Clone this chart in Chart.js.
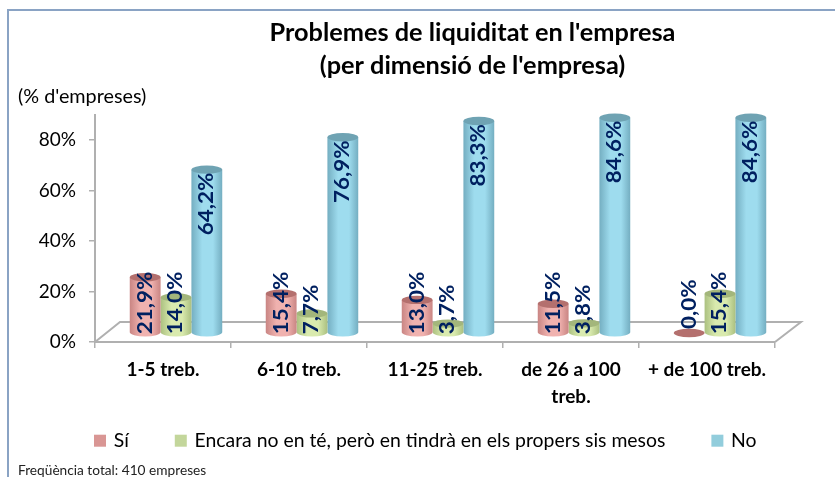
<!DOCTYPE html>
<html><head><meta charset="utf-8">
<style>html,body{margin:0;padding:0;background:#fff}#w{position:relative;width:835px;height:477px}canvas{display:block}</style>
<script src="https://cdn.jsdelivr.net/npm/chart.js@4"></script>
</head><body><div id="w"><canvas id="c" width="835" height="477"></canvas></div>
<script>
const categories = ['1-5 treb.', '6-10 treb.', '11-25 treb.', ['de 26 a 100', 'treb.'], '+ de 100 treb.'];
const si = [21.9, 15.4, 13.0, 11.5, 0.0];
const encara = [14.0, 7.7, 3.7, 3.8, 15.4];
const no = [64.2, 76.9, 83.3, 84.6, 84.6];
const seriesNames = ['Sí', 'Encara no en té, però en tindrà en els propers sis mesos', 'No'];
const titleLines = ["Problemes de liquiditat en l'empresa", "(per dimensió de l'empresa)"];
const yUnit = "(% d'empreses)";
const footnote = 'Freqüència total: 410 empreses';
const FONT = 'Lato, Carlito, sans-serif';
const palette = [
  {legend:'#d99694', edge:'#c98583', mid:'#f0b2af', top:'#b4706e'},
  {legend:'#c3d69b', edge:'#abc080', mid:'#d9eaae', top:'#a3b67b'},
  {legend:'#92cddc', edge:'#74aec1', mid:'#9edcee', top:'#6fa3b3'}
];
const DX = 13, DY = -9, RY = 4.2, LABEL_STRETCH = 1.12, PERSPECTIVE = 1.008;

function barTop(el) { return el.base + DY - (el.base - el.y) * PERSPECTIVE; }

function cylinder(ctx, el, c) {
  const w = el.width, l = el.x - w/2 + DX, r = l + w, cx = l + w/2;
  const topY = barTop(el), baseY = el.base + DY, rx = w/2;
  if (baseY - topY < 1) {
    ctx.fillStyle = c.top;
    ctx.beginPath(); ctx.ellipse(cx, baseY, rx, RY, 0, 0, Math.PI*2); ctx.fill();
    return;
  }
  const g = ctx.createLinearGradient(l, 0, r, 0);
  g.addColorStop(0, c.edge);
  g.addColorStop(0.35, c.mid); g.addColorStop(0.7, c.mid);
  g.addColorStop(1, c.edge);
  ctx.fillStyle = g;
  ctx.beginPath();
  ctx.moveTo(l, topY);
  ctx.lineTo(l, baseY);
  ctx.ellipse(cx, baseY, rx, RY, 0, Math.PI, 0, true);
  ctx.lineTo(r, topY);
  ctx.closePath();
  ctx.fill();
  ctx.fillStyle = c.top;
  ctx.beginPath(); ctx.ellipse(cx, topY, rx, RY, 0, 0, Math.PI*2); ctx.fill();
}

const scene = {
  id: 'scene',
  beforeLayout(chart) {
    const lg = chart.legend;
    if (!lg._patched) {
      const f = lg.fit;
      lg.fit = function () { this.maxWidth = 2000; f.call(this); this.height = 30; };
      lg._patched = true;
    }
  },
  afterLayout(chart) {
    const t = chart.titleBlock, lg = chart.legend;
    t.left += 85; t.right += 85; t.top = 16;
    lg.left = 48; lg.right = 2000; lg.top = 383; lg.bottom = 477;
  },
  beforeDatasetsDraw(chart) {
    const {ctx, scales:{x, y}} = chart;
    const x0 = x.left, x1 = x.right, y0 = y.getPixelForValue(0);
    ctx.save();
    ctx.strokeStyle = '#b0b0b0'; ctx.lineWidth = 2;
    ctx.beginPath();
    ctx.moveTo(x0, y0); ctx.lineTo(x0 + 25, y0 - 20); ctx.lineTo(x1 + 26, y0 - 20); ctx.lineTo(x1, y0);
    ctx.stroke();
    ctx.restore();
  },
  beforeDatasetDraw(chart, args) {
    const ctx = chart.ctx, c = palette[args.index];
    ctx.save();
    args.meta.data.forEach(el => cylinder(ctx, el, c));
    ctx.restore();
    return false;
  },
  afterDatasetsDraw(chart) {
    const ctx = chart.ctx;
    ctx.save();
    ctx.font = 'bold 20px ' + FONT;
    ctx.fillStyle = '#002060';
    ctx.textBaseline = 'middle';
    chart.data.datasets.forEach((ds, i) => {
      chart.getDatasetMeta(i).data.forEach((el, k) => {
        const txt = ds.data[k].toFixed(1).replace('.', ',') + '%';
        const len = ctx.measureText(txt).width * LABEL_STRETCH;
        const topY = barTop(el), baseY = el.base + DY;
        let start = topY + 3 + len;
        if (start > baseY + 2) start = baseY + 2;
        if (ds.data[k] === 0) start = baseY - 4;
        ctx.save();
        ctx.translate(el.x + DX, start);
        ctx.rotate(-Math.PI/2);
        ctx.scale(LABEL_STRETCH, 1);
        ctx.textAlign = 'left';
        ctx.fillText(txt, 0, 0);
        ctx.restore();
      });
    });
    ctx.restore();
  },
  afterDraw(chart) {
    const ctx = chart.ctx;
    ctx.save();
    ctx.strokeStyle = '#8aa3c4'; ctx.lineWidth = 2;
    ctx.beginPath();
    ctx.moveTo(8, 477); ctx.lineTo(8, 10); ctx.lineTo(835, 10); ctx.stroke();
    ctx.fillStyle = '#000';
    ctx.textBaseline = 'middle'; ctx.textAlign = 'left';
    ctx.font = '19.8px ' + FONT;
    ctx.fillText(yUnit, 18, 97);
    ctx.font = '13.7px ' + FONT;
    ctx.fillStyle = '#222';
    ctx.fillText(footnote, 18, 471);
    ctx.restore();
  }
};

new Chart(document.getElementById('c'), {
  type: 'bar',
  data: {
    labels: categories,
    datasets: [
      {label: seriesNames[0], data: si, backgroundColor: palette[0].legend, borderWidth: 0},
      {label: seriesNames[1], data: encara, backgroundColor: palette[1].legend, borderWidth: 0},
      {label: seriesNames[2], data: no, backgroundColor: palette[2].legend, borderWidth: 0}
    ]
  },
  plugins: [scene],
  options: {
    responsive: false, animation: false,
    layout: {padding: {left: 0, right: 60, top: 48, bottom: 35}},
    categoryPercentage: 0.68, barPercentage: 1,
    plugins: {
      title: {display: true, text: titleLines, color: '#000', fullSize: true, position: 'top',
        font: {family: FONT, size: 25.3, weight: 'bold', lineHeight: 1.32}, padding: {top: 0, bottom: 0}},
      legend: {position: 'bottom', align: 'start',
        labels: {usePointStyle: true, pointStyle: 'rect', boxWidth: 8, boxHeight: 12,
          padding: 48, color: '#000', font: {family: FONT, size: 19.4}}},
      tooltip: {enabled: false}
    },
    scales: {
      x: {
        afterFit(s) { s.height = 70; },
        border: {color: '#b0b0b0', width: 2},
        grid: {drawOnChartArea: false, drawTicks: true, tickLength: 6, color: '#b0b0b0', lineWidth: 1.5},
        ticks: {color: '#000', maxRotation: 0, autoSkip: false, padding: 8,
          font: {family: FONT, size: 19, weight: 'bold', lineHeight: 1.42}}
      },
      y: {
        min: 0, max: 90,
        afterFit(s) { s.width = 95; },
        border: {color: '#b0b0b0', width: 2},
        grid: {drawOnChartArea: false, drawTicks: true, tickLength: 6, color: '#b0b0b0', lineWidth: 1.5},
        ticks: {stepSize: 20, includeBounds: false, color: '#000', padding: 13,
          font: {family: FONT, size: 19}, callback: v => v + '%'}
      }
    }
  }
});
</script></body></html>
